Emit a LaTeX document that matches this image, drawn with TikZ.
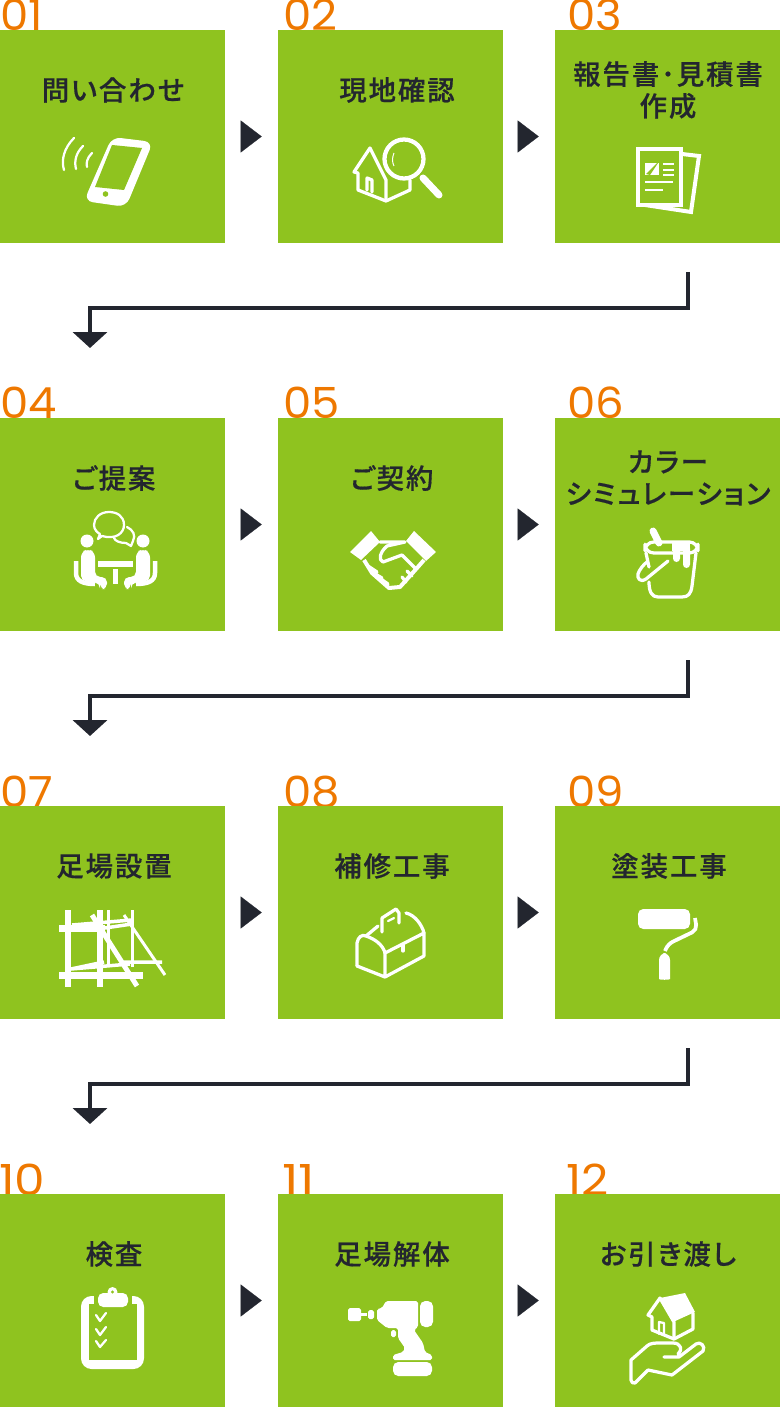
\documentclass[tikz,border=0pt]{standalone}
\usepackage{fontspec}
\usepackage{tikz}
\usetikzlibrary{arrows.meta}
\setmainfont{Poppins}
\newfontfamily\cjkfont[LetterSpace=7,RawFeature=+palt,FakeBold=0.5]{Noto Sans CJK JP Medium}
\newfontfamily\numfont{Poppins}
\definecolor{leaf}{HTML}{8FC31F}
\definecolor{ink}{HTML}{23262F}
\definecolor{tangerine}{HTML}{EE7800}

\begin{document}
\begin{tikzpicture}[x=0.02cm,y=-0.02cm,
    stepbox/.style={fill=leaf,minimum width=4.5cm,minimum height=4.26cm,inner sep=0pt},
    stepnum/.style={anchor=base west,inner sep=0pt,xscale=1.05,text=tangerine,font=\numfont\fontsize{24.4}{24.4}\selectfont},
    steplabel/.style={align=center,inner sep=0pt,text=ink,font=\cjkfont\fontsize{15.6}{18.1}\selectfont},
    nextarrow/.style={-{Triangle[length=0.42cm,width=0.64cm]},ink,line width=0.1pt},
    downarrow/.style={-{Triangle[length=0.32cm,width=0.68cm]},ink,line width=0.08cm},
    iconline/.style={white,line width=0.065cm,line join=round,line cap=round},
    iconthin/.style={white,line width=0.045cm,line join=round,line cap=round},
    iconfill/.style={fill=white,draw=none}]
  \useasboundingbox (0,0) rectangle (780,1408);

  % Step numbers
  \node[stepnum] (num01) at (0,31) {01};
  \node[stepnum] (num02) at (283,31) {02};
  \node[stepnum] (num03) at (567,31) {03};
  \node[stepnum] (num04) at (0,419) {04};
  \node[stepnum] (num05) at (283,419) {05};
  \node[stepnum] (num06) at (567,419) {06};
  \node[stepnum] (num07) at (0,807) {07};
  \node[stepnum] (num08) at (283,807) {08};
  \node[stepnum] (num09) at (567,807) {09};
  \node[stepnum,xscale=1.08] (num10) at (-1,1195) {10};
  \node[stepnum,xscale=1.14] (num11) at (282,1195) {11};
  \node[stepnum,xscale=1.05] (num12) at (566,1195) {12};

  % Boxes
  \node[stepbox] (box01) at (112.5,136.5) {};
  \node[stepbox] (box02) at (390.5,136.5) {};
  \node[stepbox] (box03) at (667.5,136.5) {};
  \node[stepbox] (box04) at (112.5,524.5) {};
  \node[stepbox] (box05) at (390.5,524.5) {};
  \node[stepbox] (box06) at (667.5,524.5) {};
  \node[stepbox] (box07) at (112.5,912.5) {};
  \node[stepbox] (box08) at (390.5,912.5) {};
  \node[stepbox] (box09) at (667.5,912.5) {};
  \node[stepbox] (box10) at (112.5,1300.5) {};
  \node[stepbox] (box11) at (390.5,1300.5) {};
  \node[stepbox] (box12) at (667.5,1300.5) {};

  % Labels
  \node[steplabel] (label01) at (113,90) {問い合わせ};
  \node[steplabel] (label02) at (397,90) {現地確認};
  \node[steplabel] (label03) at (668,90) {報告書･見積書\\作成};
  \node[steplabel] (label04) at (114,478) {ご提案};
  \node[steplabel] (label05) at (392,478) {ご契約};
  \node[steplabel] (label06) at (668,478) {カラー\\シミュレーション};
  \node[steplabel] (label07) at (114,866) {足場設置};
  \node[steplabel] (label08) at (392,866) {補修工事};
  \node[steplabel] (label09) at (669,866) {塗装工事};
  \node[steplabel] (label10) at (114,1254) {検査};
  \node[steplabel] (label11) at (392,1254) {足場解体};
  \node[steplabel] (label12) at (668,1254) {お引き渡し};

  % Arrows inside a row
  \draw[nextarrow,shorten <=0.36cm,shorten >=0.32cm] (box01.east) -- (box02.west);
  \draw[nextarrow,shorten <=0.34cm,shorten >=0.32cm] (box02.east) -- (box03.west);
  \draw[nextarrow,shorten <=0.36cm,shorten >=0.32cm] (box04.east) -- (box05.west);
  \draw[nextarrow,shorten <=0.34cm,shorten >=0.32cm] (box05.east) -- (box06.west);
  \draw[nextarrow,shorten <=0.36cm,shorten >=0.32cm] (box07.east) -- (box08.west);
  \draw[nextarrow,shorten <=0.34cm,shorten >=0.32cm] (box08.east) -- (box09.west);
  \draw[nextarrow,shorten <=0.36cm,shorten >=0.32cm] (box10.east) -- (box11.west);
  \draw[nextarrow,shorten <=0.34cm,shorten >=0.32cm] (box11.east) -- (box12.west);

  % Arrows to the next row
  \coordinate (out03) at (688,272);
  \coordinate (in04) at (90,348);
  \coordinate (out06) at (688,660);
  \coordinate (in07) at (90,736);
  \coordinate (out09) at (688,1048);
  \coordinate (in10) at (90,1124);
  \draw[downarrow] (out03) -- ++(0,36) -| (in04);
  \draw[downarrow] (out06) -- ++(0,36) -| (in07);
  \draw[downarrow] (out09) -- ++(0,36) -| (in10);

  % Phone
  \fill[white,rounded corners=5] (112,137) -- (153,142) -- (126,207) -- (84,201) -- cycle;
  \fill[leaf] (112,145) -- (142,148) -- (124,190) -- (95,187) -- cycle;
  \fill[leaf] (105.5,194) circle (2.8);
  \draw[iconthin] (74,138) .. controls (64,148) and (61,160) .. (64,170);
  \draw[iconthin] (83,146) .. controls (76,153) and (74,161) .. (76,169);
  \draw[iconthin] (92,153) .. controls (87,158) and (86,163) .. (87,167);

  % House and magnifier
  \draw[iconline] (370,148) -- (354,172) -- (358,173) -- (358,190) -- (386,201) -- (410,190) -- (410,180);
  \draw[iconline] (370,148) -- (386,180) -- (386,201);
  \draw[iconline] (367,190) -- (367,178) -- (372,180) -- (372,192);
  \draw[white,line width=0.085cm,fill=leaf] (404,159) circle (19.5);
  \draw[white,line width=0.02cm] (394,153) .. controls (392,158) and (392,162) .. (394,166);
  \draw[white,line width=0.14cm,line cap=round] (423,178) -- (439,195);

  % Report sheets
  \draw[white,line width=0.08cm] (682,154) -- (699,156) -- (691,212) -- (645,205);
  \draw[white,line width=0.08cm,fill=leaf] (638,149) rectangle (681,205);
  \fill[white] (645,163) -- (659,163) -- (659,175) -- (645,175) -- cycle;
  \fill[leaf] (646,174) -- (657,163) -- (658,163) -- (650,175) -- cycle;
  \draw[iconthin,line cap=butt] (663,164) -- (674,164) (663,170) -- (674,170) (663,175) -- (674,175);
  \draw[iconthin,line cap=butt] (645,182) -- (673,182) (645,190) -- (663,190);

  % Meeting
  \draw[iconthin] (102,536) .. controls (116,540) and (124,533) .. (124,525) .. controls (124,516) and (117,512) .. (109,512)
    .. controls (100,512) and (94,518) .. (94,525) .. controls (94,530) and (98,533) .. (100,534) -- (98,539) -- cycle;
  \draw[iconthin] (127,527) .. controls (133,530) and (136,535) .. (133,541) -- (131,546) -- (126,543)
    .. controls (120,543) and (115,541) .. (114,538);
  \fill[white] (87,541) ellipse (6.5 and 6.5);
  \fill[white] (143,541) ellipse (6.5 and 6.5);
  \fill[white,rounded corners=3] (81,552) -- (88,549) -- (95,552) -- (95,577) -- (107,577) -- (107,589) -- (100,589) -- (100,583) -- (81,581) -- cycle;
  \fill[white,rounded corners=3] (150,552) -- (143,549) -- (136,552) -- (136,577) -- (124,577) -- (124,589) -- (131,589) -- (131,583) -- (150,581) -- cycle;
  \fill[white] (98,561) rectangle (133,567);
  \fill[white] (113,569) rectangle (118,584);
  \draw[white,line width=0.09cm] (76,561) -- (76,573) .. controls (76,581) and (83,584) .. (95,584);
  \draw[white,line width=0.09cm] (155,561) -- (155,573) .. controls (155,581) and (148,584) .. (136,584);

  % Handshake
  \fill[white] (371,531) -- (380,542) -- (361,560) -- (350,552) -- cycle;
  \fill[white] (414,531) -- (436,552) -- (426,561) -- (406,541) -- cycle;
  \draw[iconline] (380,542) -- (405,542) -- (387,546) .. controls (380,552) and (378,560) .. (383,562) -- (402,555) -- (415,568);
  \draw[white,line width=0.08cm,line join=round] (364,560) -- (372,573) -- (389,588) -- (400,587) -- (417,568) -- (424,560);
  \draw[iconline] (368,566) -- (377,572) (372,572) -- (382,578) (378,577) -- (388,584);
  \draw[iconline] (406,582) -- (402,577) (412,576) -- (407,571);

  % Paint bucket
  \draw[iconline,rounded corners=5] (645,542) rectangle (698,553);
  \draw[iconline] (646,553) -- (649,567) (649,582) .. controls (649,592) and (652,597) .. (658,597) -- (682,597) .. controls (688,597) and (691,594) .. (692,586) -- (696,553);
  \draw[white,line width=0.14cm,line cap=round] (653,531) -- (659,543);
  \fill[white] (672,541) rectangle (690,551);
  \fill[white,rounded corners=2] (673,545) rectangle (680,562);
  \fill[white,rounded corners=2] (683,545) rectangle (690,568);
  \draw[iconline] (668,561) -- (646,579) .. controls (640,583) and (637,578) .. (638,574) .. controls (639,570) and (644,564) .. (647,562);

  % Scaffold
  \draw[white,line width=0.13cm] (68,910) -- (68,987) (100,910) -- (100,987);
  \draw[white,line width=0.06cm] (108.5,910) -- (108.5,967) (132,910) -- (132,967);
  \draw[white,line width=0.14cm] (59,928) -- (105,928) (59,975) -- (143,975);
  \draw[white,line width=0.07cm] (72,925) -- (132,920) (105,928) -- (132,924);
  \draw[white,line width=0.07cm] (71,969) -- (104,962) (71,969) -- (130,964) (124,962) -- (162,962);
  \draw[white,line width=0.10cm] (92,915) -- (137,986);
  \draw[white,line width=0.06cm] (124,915) -- (165,975);

  % Toolbox
  \draw[iconline] (357,966) -- (385,977) -- (424,956) -- (424,933) -- (385,953) -- (385,977);
  \draw[iconline] (357,966) -- (357,943) .. controls (358,937) and (362,934) .. (366,936) .. controls (375,939) and (383,945) .. (385,953);
  \draw[iconline] (366,936) -- (378,926);
  \draw[iconline] (406,913) .. controls (415,915) and (422,925) .. (424,933);
  \draw[iconline] (382,932) -- (382,918) -- (396,909) -- (399,913) -- (399,923);
  \draw[iconthin] (388,921) -- (394,918);
  \draw[iconline] (403,945) -- (403,951);

  % Roller
  \fill[white,rounded corners=3] (638,909) rectangle (690,929);
  \draw[white,line width=0.075cm,rounded corners=3] (695,918) -- (697,930) -- (668,944) -- (665,951);
  \fill[white,rounded corners=4] (659,953) -- (670,953) -- (670,972) .. controls (670,980) and (659,980) .. (659,972) -- cycle;

  % Clipboard
  \fill[white,rounded corners=6] (81,1296) rectangle (144,1369);
  \fill[leaf] (89,1304) rectangle (137,1360);
  \fill[leaf] (94,1294) rectangle (132,1304);
  \fill[white,rounded corners=3] (98,1293) rectangle (128,1307);
  \fill[white] (112.5,1292) circle (5);
  \fill[leaf] (112.5,1292) circle (1.7);
  \draw[iconthin] (96,1315) -- (100,1321) -- (106,1313);
  \draw[iconthin] (96,1329) -- (100,1335) -- (106,1327);
  \draw[iconthin] (96,1341) -- (100,1347) -- (106,1340);

  % Drill
  \fill[white,rounded corners=1] (386,1301) -- (418,1301) -- (418,1327) -- (414,1330) -- (423,1343) -- (425,1352) -- (432,1355) -- (432,1360) -- (393,1360) -- (393,1355) -- (403,1352) -- (405,1348) -- (398,1338) -- (398,1328) -- (387,1328) -- (377,1320) -- (377,1309) -- (382,1308) -- cycle;
  \fill[white,rounded corners=3] (393,1362) rectangle (432,1376);
  \fill[white,rounded corners=3] (420,1301) rectangle (433,1327);
  \fill[white,rounded corners=1] (348,1308) rectangle (361,1321);
  \fill[white] (361,1313) rectangle (367,1316);
  \fill[white,rounded corners=1] (368,1310) rectangle (374,1319);
  \fill[white,rounded corners=1] (391,1330) rectangle (396,1337);

  % House on a hand
  \fill[white] (660,1298) -- (685,1293) -- (695,1312) -- (673,1322) -- cycle;
  \draw[iconline] (660,1298) -- (648,1315) -- (652,1317) -- (652,1330) -- (674,1339) -- (693,1329) -- (693,1313);
  \draw[iconline] (660,1298) -- (674,1322) -- (674,1339);
  \draw[iconthin] (659,1334) -- (659,1322) -- (664,1323) -- (664,1335);
  \draw[iconline] (664,1357) -- (679,1357) -- (696,1344) .. controls (700,1341) and (706,1346) .. (703,1351) -- (672,1375) -- (648,1370) -- (635,1383) .. controls (633,1384) and (631,1382) .. (631,1380) -- (631,1360) -- (647,1346) .. controls (650,1343) and (655,1343) .. (660,1343) -- (673,1343) .. controls (681,1343) and (683,1350) .. (678,1354);
\end{tikzpicture}
\end{document}
